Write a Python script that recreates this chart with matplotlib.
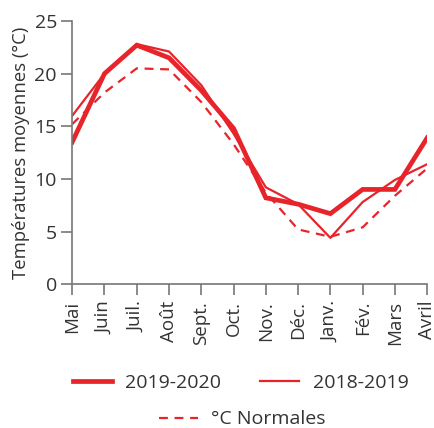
import matplotlib

matplotlib.use("Agg")
import matplotlib.pyplot as plt
from matplotlib.lines import Line2D

plt.rcParams["font.family"] = ["Open Sans", "DejaVu Sans"]

RED = "#e8242b"
INK = "#333333"
AXIS = "#777777"

months = ["Mai", "Juin", "Juil.", "Août", "Sept.", "Oct.", "Nov.", "Déc.",
          "Janv.", "Fév.", "Mars", "Avril"]
t_2019_2020 = [13.5, 20.0, 22.7, 21.5, 18.4, 14.8, 8.2, 7.6, 6.7, 9.0, 9.0, 13.9]
t_2018_2019 = [16.0, 20.0, 22.8, 22.1, 18.9, 14.3, 9.2, 7.6, 4.4, 7.8, 9.9, 11.4]
t_normales = [15.2, 18.2, 20.5, 20.4, 17.3, 13.3, 8.7, 5.2, 4.5, 5.4, 8.4, 11.0]
y_ticks = [0, 5, 10, 15, 20, 25]

fig = plt.figure(figsize=(4.35, 4.28), dpi=100)
ax = fig.add_axes([0.166, 0.336, 0.816, 0.615])

x = range(len(months))
ax.plot(x, t_normales, color=RED, lw=1.6, ls=(0, (4, 3)))
ax.plot(x, t_2018_2019, color=RED, lw=1.6)
ax.plot(x, t_2019_2020, color=RED, lw=3.4, solid_joinstyle="miter")

ax.set_xlim(0, len(months) - 1)
ax.set_ylim(0, 25)
ax.set_xticks(list(x))
ax.set_xticklabels(months, rotation=90, fontsize=13.5, color=INK)
ax.set_yticks(y_ticks)
ax.set_yticklabels([str(v) for v in y_ticks], fontsize=14, color=INK)
ax.set_ylabel("Températures moyennes (°C)", fontsize=13.3, color=INK, labelpad=3)
for s in ("top", "right"):
    ax.spines[s].set_visible(False)
for s in ("left", "bottom"):
    ax.spines[s].set_color(AXIS)
    ax.spines[s].set_linewidth(1.2)
ax.tick_params(axis="both", direction="out", length=8, width=1.2, color=AXIS, pad=3)
ax.tick_params(axis="x", pad=4)

h1 = [Line2D([], [], color=RED, lw=3.4), Line2D([], [], color=RED, lw=1.6)]
leg1 = fig.legend(h1, ["2019-2020", "2018-2019"], ncol=2, loc="center",
                  bbox_to_anchor=(0.553, 0.105), frameon=False, fontsize=14,
                  handlelength=2.0, columnspacing=2.0, handletextpad=0.7)
for t in leg1.get_texts():
    t.set_color(INK)
h2 = [Line2D([], [], color=RED, lw=1.6, ls=(0, (4, 3)))]
leg2 = fig.legend(h2, ["°C Normales"], loc="center", bbox_to_anchor=(0.557, 0.02),
                  frameon=False, fontsize=14, handlelength=2.0, handletextpad=0.7)
for t in leg2.get_texts():
    t.set_color(INK)

fig.savefig("out.png", dpi=100, facecolor="white")
